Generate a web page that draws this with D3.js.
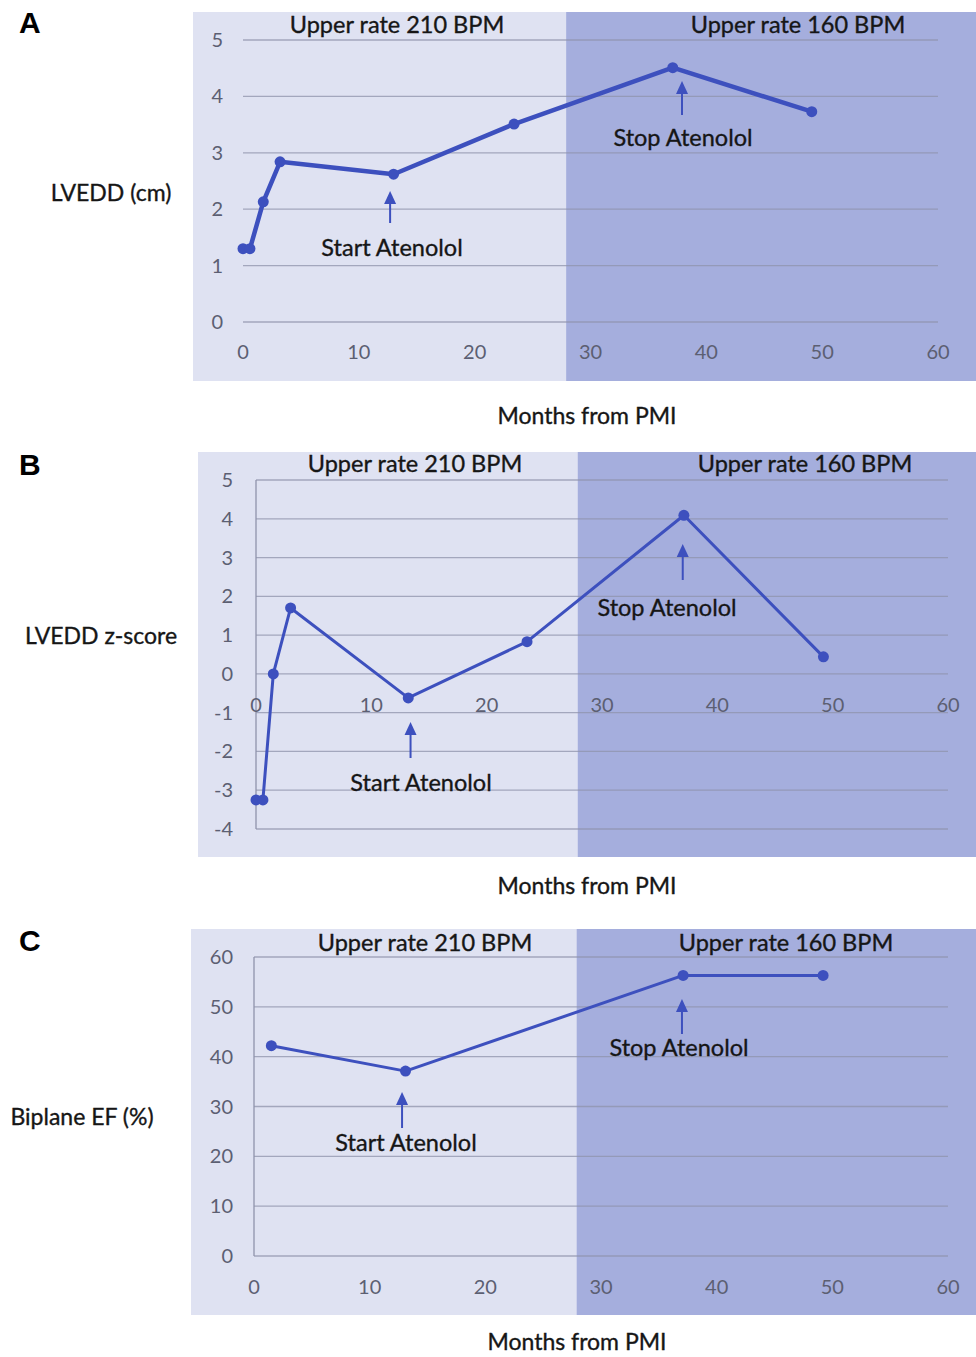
<!DOCTYPE html>
<html>
<head>
<meta charset="utf-8">
<script src="https://cdn.jsdelivr.net/npm/d3@7"></script>
<style>
  body { margin: 0; background: #fff; }
  svg { display: block; font-family: Lato, "Open Sans", sans-serif; }
  .lbl { fill: #161616; stroke: #161616; stroke-width: 0.35px; }
</style>
</head>
<body>
<svg id="chart" width="976" height="1357"></svg>
<script>
// values
const xTicks = [0, 10, 20, 30, 40, 50, 60];
const rateLabels = ['Upper rate 210 BPM', 'Upper rate 160 BPM'];
const rateChangeMonth = 27.9;

const monthsA = [0, 0.6, 1.75, 3.2, 13, 23.4, 37.1, 49.1];
const lveddCm = [1.3, 1.3, 2.13, 2.84, 2.62, 3.51, 4.51, 3.73];
const yTicksA = [0, 1, 2, 3, 4, 5];

const monthsB = [0, 0.6, 1.5, 3.0, 13.2, 23.5, 37.1, 49.2];
const lveddZ = [-3.25, -3.25, 0, 1.7, -0.62, 0.83, 4.09, 0.44];
const yTicksB = [-4, -3, -2, -1, 0, 1, 2, 3, 4, 5];

const monthsC = [1.5, 13.1, 37.1, 49.2];
const biplaneEF = [42.2, 37.1, 56.3, 56.3];
const yTicksC = [0, 10, 20, 30, 40, 50, 60];

const startMonths = [12.7, 13.4, 12.8];
const stopMonths = [37.9, 37.0, 37.0];

const lineColor = '#3d50be';
const svg = d3.select('#chart');

function drawPanel(p) {
  const g = svg.append('g');
  const x = d3.scaleLinear().domain([0, 60]).range([p.x0, p.x1]);
  const y = d3.scaleLinear().domain(p.yDomain).range([p.yBottom, p.yTop]);

  // background bands
  g.append('rect')
    .attr('x', p.bgLeft).attr('y', p.bgTop)
    .attr('width', 976 - p.bgLeft).attr('height', p.bgBottom - p.bgTop)
    .attr('fill', '#dfe2f2');
  g.append('rect')
    .attr('x', x(rateChangeMonth)).attr('y', p.bgTop)
    .attr('width', 976 - x(rateChangeMonth)).attr('height', p.bgBottom - p.bgTop)
    .attr('fill', '#a5aedd');

  // gridlines
  g.selectAll('line.grid')
    .data(p.yTicks)
    .join('line')
    .attr('class', 'grid')
    .attr('x1', p.x0).attr('x2', p.x1)
    .attr('y1', d => y(d)).attr('y2', d => y(d))
    .attr('stroke', '#8f93ab').attr('stroke-opacity', 0.75).attr('stroke-width', 1.3);

  if (p.axisLine) {
    g.append('line')
      .attr('x1', p.x0).attr('x2', p.x0)
      .attr('y1', y(p.yDomain[0])).attr('y2', y(p.yDomain[1]))
      .attr('stroke', '#8f93ab').attr('stroke-width', 1.3);
  }

  // y tick labels
  g.selectAll('text.ytick')
    .data(p.yTicks)
    .join('text')
    .attr('class', 'ytick')
    .attr('x', p.yLabelX).attr('y', d => y(d))
    .attr('dy', '0.35em')
    .attr('text-anchor', 'end')
    .attr('font-size', 20).attr('fill', '#5c5f72')
    .text(d => d);

  // x tick labels
  g.selectAll('text.xtick')
    .data(xTicks)
    .join('text')
    .attr('class', 'xtick')
    .attr('x', d => x(d)).attr('y', p.xLabelY)
    .attr('dy', '0.35em')
    .attr('text-anchor', 'middle')
    .attr('font-size', 20).attr('fill', '#5c5f72')
    .text(d => d);

  // series
  const pts = p.months.map((m, i) => [m, p.values[i]]);
  g.append('path')
    .datum(pts)
    .attr('fill', 'none')
    .attr('stroke', lineColor)
    .attr('stroke-width', p.lineWidth)
    .attr('stroke-linejoin', 'round')
    .attr('d', d3.line().x(d => x(d[0])).y(d => y(d[1])));
  g.selectAll('circle')
    .data(pts)
    .join('circle')
    .attr('cx', d => x(d[0])).attr('cy', d => y(d[1]))
    .attr('r', 5.5)
    .attr('fill', lineColor);

  // rate labels
  rateLabels.forEach((t, i) => {
    g.append('text')
      .attr('class', 'lbl')
      .attr('x', p.rateX[i]).attr('y', p.rateY)
      .attr('dy', '0.35em').attr('text-anchor', 'middle')
      .attr('font-size', 23.5)
      .text(t);
  });

  // annotations
  const arrow = (month, tipY, tailY, label, lx, ly) => {
    const ax = x(month);
    g.append('line')
      .attr('x1', ax).attr('x2', ax)
      .attr('y1', tipY + 8).attr('y2', tailY)
      .attr('stroke', lineColor).attr('stroke-width', 2);
    g.append('path')
      .attr('d', `M${ax},${tipY} L${ax - 6},${tipY + 13} L${ax + 6},${tipY + 13} Z`)
      .attr('fill', lineColor);
    g.append('text')
      .attr('class', 'lbl')
      .attr('x', lx).attr('y', ly)
      .attr('dy', '0.35em').attr('text-anchor', 'middle')
      .attr('font-size', 23.5)
      .text(label);
  };
  arrow(p.startMonth, p.startArrow[0], p.startArrow[1], 'Start Atenolol', p.startLabel[0], p.startLabel[1]);
  arrow(p.stopMonth, p.stopArrow[0], p.stopArrow[1], 'Stop Atenolol', p.stopLabel[0], p.stopLabel[1]);

  // axis titles
  g.append('text')
    .attr('class', 'lbl')
    .attr('x', p.yTitle[0]).attr('y', p.yTitle[1])
    .attr('dy', '0.35em').attr('text-anchor', 'middle')
    .attr('font-size', 23)
    .text(p.yTitleText);
  g.append('text')
    .attr('class', 'lbl')
    .attr('x', p.xTitle[0]).attr('y', p.xTitle[1])
    .attr('dy', '0.35em').attr('text-anchor', 'middle')
    .attr('font-size', 23)
    .text('Months from PMI');

  // panel letter
  svg.append('text')
    .attr('x', 19).attr('y', p.letterY)
    .attr('font-family', 'Liberation Sans, Arial, sans-serif')
    .attr('font-weight', 'bold').attr('font-size', 30)
    .text(p.letter);
}

drawPanel({
  letter: 'A', letterY: 33,
  months: monthsA, values: lveddCm, yTicks: yTicksA, yDomain: [0, 5],
  x0: 243, x1: 938, yBottom: 322, yTop: 40,
  bgLeft: 193, bgTop: 12, bgBottom: 381,
  axisLine: false, yLabelX: 223, xLabelY: 352, lineWidth: 4.5,
  rateX: [397, 798], rateY: 25,
  startMonth: startMonths[0], startArrow: [191, 223], startLabel: [392, 248],
  stopMonth: stopMonths[0], stopArrow: [81, 115], stopLabel: [683, 138],
  yTitleText: 'LVEDD (cm)', yTitle: [111, 193], xTitle: [587, 416]
});

drawPanel({
  letter: 'B', letterY: 475,
  months: monthsB, values: lveddZ, yTicks: yTicksB, yDomain: [-4, 5],
  x0: 256, x1: 948, yBottom: 829, yTop: 480,
  bgLeft: 198, bgTop: 452, bgBottom: 857,
  axisLine: true, yLabelX: 233, xLabelY: 705, lineWidth: 3,
  rateX: [415, 805], rateY: 464,
  startMonth: startMonths[1], startArrow: [722, 758], startLabel: [421, 783],
  stopMonth: stopMonths[1], stopArrow: [544, 580], stopLabel: [667, 608],
  yTitleText: 'LVEDD z-score', yTitle: [101, 636], xTitle: [587, 886]
});

drawPanel({
  letter: 'C', letterY: 951,
  months: monthsC, values: biplaneEF, yTicks: yTicksC, yDomain: [0, 60],
  x0: 254, x1: 948, yBottom: 1256, yTop: 957,
  bgLeft: 191, bgTop: 929, bgBottom: 1315,
  axisLine: true, yLabelX: 233, xLabelY: 1287, lineWidth: 3,
  rateX: [425, 786], rateY: 943,
  startMonth: startMonths[2], startArrow: [1092, 1128], startLabel: [406, 1143],
  stopMonth: stopMonths[2], stopArrow: [999, 1034], stopLabel: [679, 1048],
  yTitleText: 'Biplane EF (%)', yTitle: [82, 1117], xTitle: [577, 1342]
});
</script>
</body>
</html>
